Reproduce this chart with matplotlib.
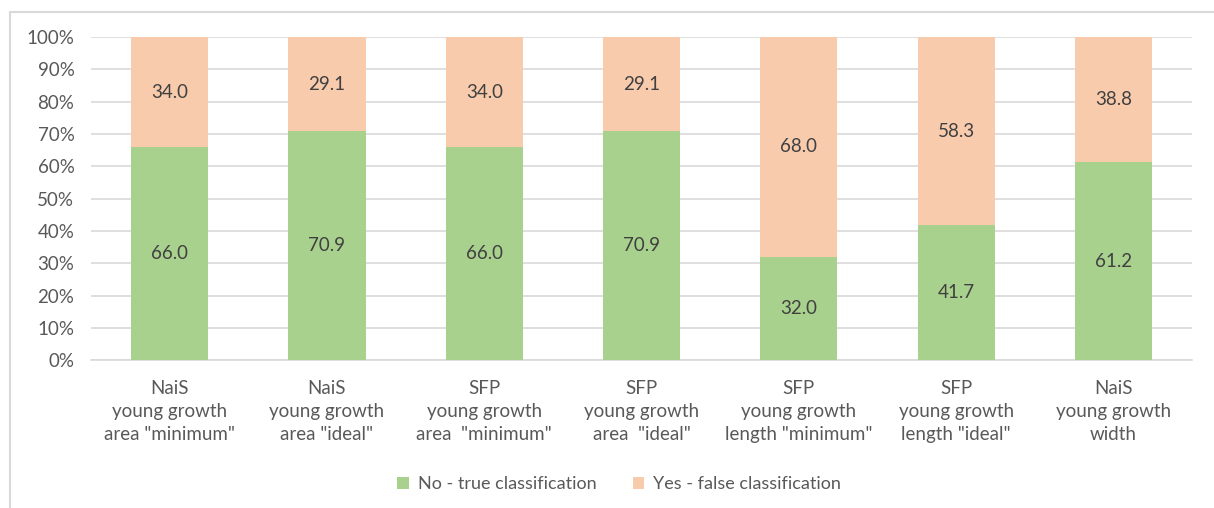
import numpy as np
import matplotlib.pyplot as plt
from matplotlib.lines import Line2D
from matplotlib.ticker import PercentFormatter

plt.rcParams['font.family'] = ['Lato', 'DejaVu Sans']

############### DATA ###############
categories = ['NaiS\nyoung growth\narea "minimum"',
              'NaiS\nyoung growth\narea "ideal"',
              'SFP\nyoung growth\narea  "minimum"',
              'SFP\nyoung growth\narea  "ideal"',
              'SFP\nyoung growth\nlength "minimum"',
              'SFP\nyoung growth\nlength "ideal"',
              'NaiS\nyoung growth\nwidth']
no_true = [66.0, 70.9, 66.0, 70.9, 32.0, 41.7, 61.2]
yes_false = [34.0, 29.1, 34.0, 29.1, 68.0, 58.3, 38.8]
series_names = ['No - true classification', 'Yes - false classification']

green = '#A9D18E'
peach = '#F8CBAD'
txt = '#595959'

############### PLOT ###############
fig = plt.figure(figsize=(12.14, 5.08), dpi=100)
ax = fig.add_axes([0.075, 0.291, 0.907, 0.636])

x = np.arange(len(categories))
b1 = ax.bar(x, no_true, width=0.49, color=green, label=series_names[0], zorder=3)
b2 = ax.bar(x, yes_false, width=0.49, bottom=no_true, color=peach, label=series_names[1], zorder=3)
ax.bar_label(b1, labels=[f'{v:.1f}' for v in no_true], label_type='center',
             fontsize=13.5, color='#404040')
ax.bar_label(b2, labels=[f'{v:.1f}' for v in yes_false], label_type='center',
             fontsize=13.5, color='#404040')

ax.set_xlim(-0.5, len(categories) - 0.5)
ax.set_ylim(0, 100)
ax.set_yticks(np.arange(0, 101, 10))
ax.yaxis.set_major_formatter(PercentFormatter(decimals=0))
ax.set_xticks(x)
ax.set_xticklabels(categories, linespacing=1.45)
ax.tick_params(axis='both', length=0, labelsize=13.5, labelcolor=txt)
ax.tick_params(axis='x', pad=14)
ax.tick_params(axis='y', pad=12)
ax.grid(axis='y', color='#D9D9D9', linewidth=1.2, zorder=0)
for s in ['top', 'right', 'left']:
    ax.spines[s].set_visible(False)
ax.spines['bottom'].set_color('#D9D9D9')
ax.spines['bottom'].set_linewidth(1.2)

leg = fig.legend(loc='center', bbox_to_anchor=(0.51, 0.047), ncol=2, frameon=False,
                 fontsize=13, handlelength=0.65, handleheight=0.65, columnspacing=2.0,
                 handletextpad=0.5)
for t in leg.get_texts():
    t.set_color(txt)

# chart border
fig.add_artist(Line2D([10/1214, 10/1214], [0, 1 - 12/508], transform=fig.transFigure, color='#D9D9D9', lw=1.5))
fig.add_artist(Line2D([10/1214, 1], [1 - 12/508, 1 - 12/508], transform=fig.transFigure, color='#D9D9D9', lw=1.5))

fig.savefig('out.png', dpi=100)
